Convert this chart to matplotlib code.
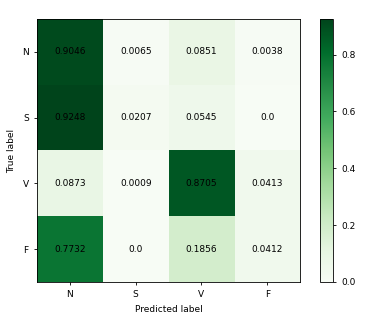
import numpy as np
import matplotlib
matplotlib.use("Agg")
import matplotlib.pyplot as plt

classes = ["N", "S", "V", "F"]
cm = np.array([
    [0.9046, 0.0065, 0.0851, 0.0038],
    [0.9248, 0.0207, 0.0545, 0.0],
    [0.0873, 0.0009, 0.8705, 0.0413],
    [0.7732, 0.0, 0.1856, 0.0412],
])

fs = 6.5
fig = plt.figure(figsize=(3.78, 3.24), dpi=100)
ax = fig.add_axes([0.098, 0.130, 0.696, 0.811])
cax = fig.add_axes([0.847, 0.130, 0.034, 0.811])

im = ax.imshow(cm, interpolation="nearest", cmap=plt.cm.Greens, aspect="auto")
cb = fig.colorbar(im, cax=cax)
cb.ax.tick_params(labelsize=fs, length=2.5, width=0.6)
cb.outline.set_linewidth(0.6)

ax.set_xticks(np.arange(len(classes)))
ax.set_xticklabels(classes)
ax.set_yticks(np.arange(len(classes)))
ax.set_yticklabels(classes)
ax.tick_params(labelsize=fs, length=2.5, width=0.6)
for s in ax.spines.values():
    s.set_linewidth(0.6)

for i in range(cm.shape[0]):
    for j in range(cm.shape[1]):
        ax.text(j, i, str(cm[i, j]), ha="center", va="center", color="black", fontsize=fs)

ax.set_ylabel("True label", fontsize=fs)
ax.set_xlabel("Predicted label", fontsize=fs)

fig.savefig("out.png", dpi=100)
